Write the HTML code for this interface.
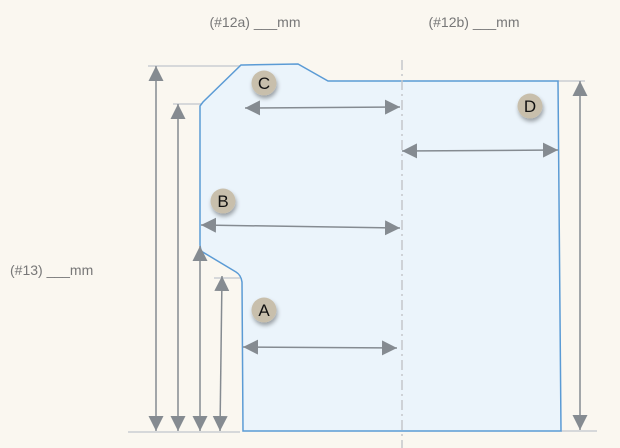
<!DOCTYPE html>
<html><head><style>
html,body{margin:0;padding:0;background:#faf7f0;}
svg{display:block}
text{font-family:"Liberation Sans",sans-serif;}
</style></head><body>
<svg width="620" height="448" viewBox="0 0 620 448" xmlns="http://www.w3.org/2000/svg">
<defs>
<marker id="ar" viewBox="0 0 10 10" refX="10" refY="5" markerWidth="15" markerHeight="15" markerUnits="userSpaceOnUse" orient="auto-start-reverse">
<path d="M0,0 L10,5 L0,10 z" fill="#858b91"/></marker>
<filter id="sh" x="-50%" y="-50%" width="200%" height="200%"><feDropShadow dx="1" dy="3" stdDeviation="2" flood-color="#000" flood-opacity="0.35"/></filter>
</defs>
<rect width="620" height="448" fill="#faf7f0"/>
<text x="255" y="27" font-size="14" fill="#777" text-anchor="middle">(#12a) ___mm</text>
<text x="474" y="27" font-size="14" fill="#777" text-anchor="middle">(#12b) ___mm</text>
<text x="10" y="275" font-size="14" fill="#777">(#13) ___mm</text>
<!-- extension lines -->
<g stroke="#d6d8da" stroke-width="2">
<line x1="148" y1="66" x2="241" y2="66"/>
<line x1="173" y1="104" x2="205" y2="104"/>
<line x1="214" y1="278" x2="240" y2="278"/>
<line x1="128" y1="432" x2="240" y2="432"/>
<line x1="558" y1="81" x2="585" y2="81"/>
<line x1="561" y1="431" x2="597" y2="431"/>
<line x1="243" y1="66" x2="243" y2="110"/>
</g>
<path d="M243,65 L298,64 L328,81 L558,81 L561,431 L243,431 L242,282 Q241,275 236,272 L201,251 L200,245 L200,106 L203,102 L241,65 Z" fill="#ebf4fb" stroke="#5b9bd5" stroke-width="1.5"/>
<line x1="402" y1="60" x2="402" y2="448" stroke="#c4c7cb" stroke-width="1.5" stroke-dasharray="10,4,2,4"/>
<g stroke="#858b91" stroke-width="1.5" marker-start="url(#ar)" marker-end="url(#ar)">
<line x1="156" y1="66" x2="156" y2="431"/>
<line x1="178" y1="104" x2="178" y2="431"/>
<line x1="200" y1="246" x2="200" y2="431"/>
<line x1="222" y1="276" x2="220" y2="431"/>
<line x1="580" y1="81" x2="580" y2="430"/>
<line x1="245" y1="108" x2="400" y2="107"/>
<line x1="201" y1="225" x2="400" y2="228"/>
<line x1="243" y1="347" x2="397" y2="348"/>
<line x1="402" y1="151" x2="558" y2="150"/>
</g>
<g font-size="17" text-anchor="middle" fill="#111">
<circle cx="264" cy="83" r="12.5" fill="#c8bfac" filter="url(#sh)"/><text x="264" y="89">C</text>
<circle cx="223" cy="201" r="12.5" fill="#c8bfac" filter="url(#sh)"/><text x="223" y="207">B</text>
<circle cx="264" cy="310" r="12.5" fill="#c8bfac" filter="url(#sh)"/><text x="264" y="316">A</text>
<circle cx="530" cy="106" r="12.5" fill="#c8bfac" filter="url(#sh)"/><text x="530" y="112">D</text>
</g>
</svg>
</body></html>
